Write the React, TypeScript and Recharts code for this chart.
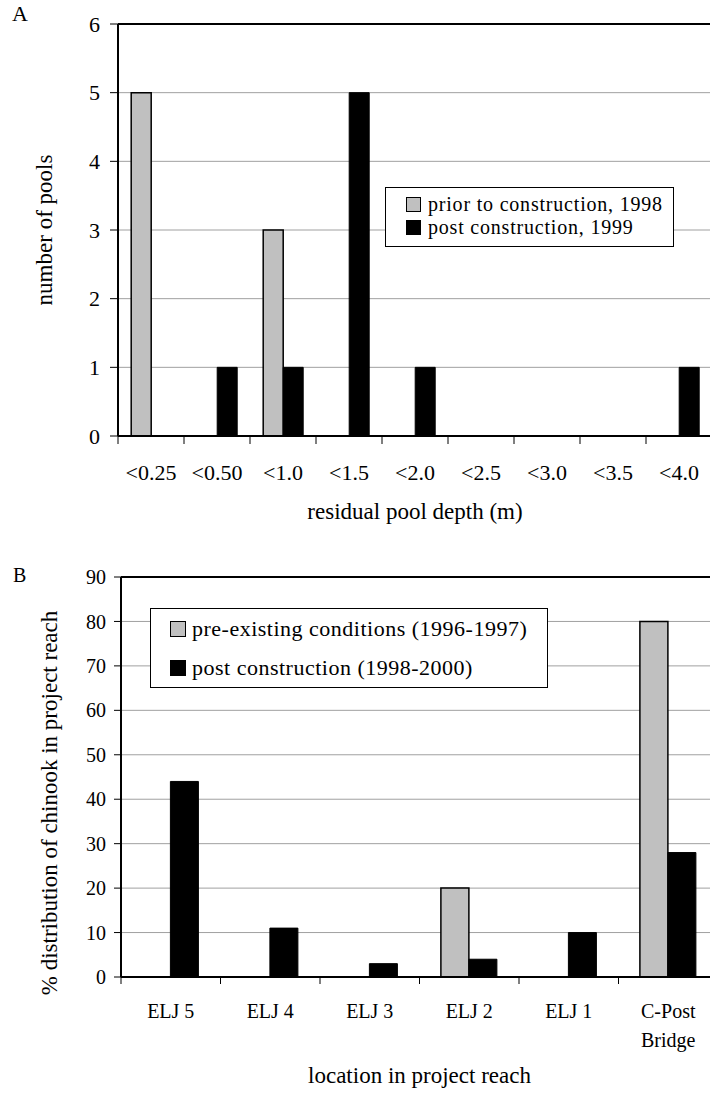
import React from "react";
import {
  Bar,
  BarChart,
  CartesianGrid,
  Label,
  Legend,
  ReferenceLine,
  Text,
  XAxis,
  YAxis,
} from "recharts";

const SERIF = '"Liberation Serif", "Times New Roman", serif';
const GRAY = "#c0c0c0";
const GRID = "#a0a0a0";

// panel A: residual pool depth histogram
const depthClasses = ["<0.25", "<0.50", "<1.0", "<1.5", "<2.0", "<2.5", "<3.0", "<3.5", "<4.0"];
const poolsPrior1998 = [5, 0, 3, 0, 0, 0, 0, 0, 0];
const poolsPost1999 = [0, 1, 1, 5, 1, 0, 0, 0, 1];
const poolTicks = [0, 1, 2, 3, 4, 5, 6];
const poolSeries = ["prior to construction, 1998", "post construction, 1999"];

// panel B: chinook distribution by location
const reachLocations = ["ELJ 5", "ELJ 4", "ELJ 3", "ELJ 2", "ELJ 1", "C-Post Bridge"];
const chinookPre = [0, 0, 0, 20, 0, 80];
const chinookPost = [44, 11, 3, 4, 10, 28];
const chinookTicks = [0, 10, 20, 30, 40, 50, 60, 70, 80, 90];
const chinookSeries = ["pre-existing conditions (1996-1997)", "post construction (1998-2000)"];

const poolData = depthClasses.map((depth, i) => ({
  depth,
  prior: poolsPrior1998[i],
  post: poolsPost1999[i],
}));

const chinookData = reachLocations.map((loc, i) => ({
  loc,
  pre: chinookPre[i],
  post: chinookPost[i],
}));

type TickCfg = {
  fontSize: number;
  tickSize: number;
  tickMargin: number;
  half: number;
  wrap?: number;
  lineHeight?: number;
};

// Excel-style category axis: tick marks sit between categories
function CategoryTick(props: any) {
  const { x, y, payload, index, visibleTicksCount, cfg } = props;
  const c: TickCfg = cfg;
  const half = payload && payload.offset > 5 && payload.offset < 80 ? payload.offset : c.half;
  const axisY = y - c.tickSize - c.tickMargin;
  return (
    <g>
      <line x1={x - half} x2={x - half} y1={axisY} y2={axisY + c.tickSize} stroke="#000" />
      {index === visibleTicksCount - 1 && (
        <line x1={x + half} x2={x + half} y1={axisY} y2={axisY + c.tickSize} stroke="#000" />
      )}
      <Text
        x={x}
        y={y}
        width={c.wrap}
        textAnchor="middle"
        verticalAnchor="start"
        lineHeight={c.lineHeight}
        fontSize={c.fontSize}
        fontFamily={SERIF}
        fill="#000"
        style={{ fontSize: c.fontSize, fontFamily: SERIF }}
      >
        {payload.value}
      </Text>
    </g>
  );
}

const BoxLegend = ({ payload, order, fontSize, spacing, rowHeight, padding, swatch, gap, width }: any) => {
  const items = [...(payload || [])].sort(
    (a: any, b: any) => order.indexOf(a.value) - order.indexOf(b.value)
  );
  return (
    <div
      style={{
        border: "1px solid #000",
        background: "#fff",
        padding,
        width,
        boxSizing: "border-box",
        fontFamily: SERIF,
        fontSize,
        letterSpacing: spacing,
        color: "#000",
      }}
    >
      {items.map((item: any) => (
        <div
          key={item.value}
          style={{ display: "flex", alignItems: "center", height: rowHeight, whiteSpace: "nowrap" }}
        >
          <span
            style={{
              width: swatch,
              height: swatch,
              background: item.color,
              border: "1px solid #000",
              boxSizing: "border-box",
              marginRight: gap,
              flex: "none",
            }}
          />
          <span style={{ lineHeight: `${rowHeight}px` }}>{item.value}</span>
        </div>
      ))}
    </div>
  );
};

const yTitle = (text: string, baseX: number, shiftY: number, fontSize: number) => (p: any) => {
  const vb = p.viewBox || { x: 0, y: 0, width: 0, height: 0 };
  const cx = vb.x + baseX;
  const cy = vb.y + vb.height / 2 + shiftY;
  return (
    <text
      x={cx}
      y={cy}
      transform={`rotate(-90 ${cx} ${cy})`}
      textAnchor="middle"
      fontSize={fontSize}
      fontFamily={SERIF}
      fill="#000"
    >
      {text}
    </text>
  );
};

const xTitle = (text: string, baseline: number, fontSize: number) => (p: any) => {
  const vb = p.viewBox || { x: 0, y: 0, width: 0, height: 0 };
  return (
    <text
      x={vb.x + vb.width / 2}
      y={vb.y + baseline}
      textAnchor="middle"
      fontSize={fontSize}
      fontFamily={SERIF}
      fill="#000"
    >
      {text}
    </text>
  );
};

const axisLine = { stroke: "#000", strokeWidth: 2 };

const PoolChart = () => (
  <BarChart
    width={712}
    height={545}
    data={poolData}
    margin={{ top: 24, right: 0, bottom: 0, left: 0 }}
    barCategoryGap="20%"
    barGap={0}
  >
    <CartesianGrid vertical={false} stroke={GRID} />
    <XAxis
      dataKey="depth"
      height={109}
      interval={0}
      axisLine={axisLine}
      tickLine={false}
      tickSize={8}
      tickMargin={20}
      tick={(p: any) => (
        <CategoryTick {...p} cfg={{ fontSize: 22, tickSize: 8, tickMargin: 20, half: 33 }} />
      )}
    >
      <Label content={xTitle("residual pool depth (m)", 83, 23)} />
    </XAxis>
    <YAxis
      width={118}
      domain={[0, 6]}
      ticks={poolTicks}
      interval={0}
      axisLine={axisLine}
      tickLine={{ stroke: "#000" }}
      tickSize={8}
      tickMargin={10}
      tick={{ fontSize: 22, fill: "#000", fontFamily: SERIF }}
    >
      <Label content={yTitle("number of pools", 52, 0, 23)} />
    </YAxis>
    <ReferenceLine y={6} stroke="#000" strokeWidth={2} />
    <Legend
      layout="vertical"
      align="center"
      verticalAlign="middle"
      wrapperStyle={{ left: 385, top: 187, width: "auto" }}
      content={(p: any) => (
        <BoxLegend
          payload={p.payload}
          order={poolSeries}
          fontSize={20}
          spacing="0.8px"
          rowHeight={23}
          padding="5px 10px 7px 20px"
          swatch={15}
          gap={7}
        />
      )}
    />
    <Bar dataKey="prior" name={poolSeries[0]} fill={GRAY} stroke="#000" strokeWidth={1.5} isAnimationActive={false} />
    <Bar dataKey="post" name={poolSeries[1]} fill="#000" stroke="#000" strokeWidth={1} isAnimationActive={false} />
  </BarChart>
);

const ChinookChart = () => (
  <BarChart
    width={718}
    height={548}
    data={chinookData}
    margin={{ top: 32, right: 0, bottom: 0, left: 0 }}
    barCategoryGap="21.5%"
    barGap={0}
  >
    <CartesianGrid vertical={false} stroke={GRID} />
    <XAxis
      dataKey="loc"
      height={116}
      interval={0}
      axisLine={axisLine}
      tickLine={false}
      tickSize={7}
      tickMargin={20}
      tick={(p: any) => (
        <CategoryTick
          {...p}
          cfg={{ fontSize: 20, tickSize: 7, tickMargin: 20, half: 49.75, wrap: 90, lineHeight: 29 }}
        />
      )}
    >
      <Label content={xTitle("location in project reach", 106, 23)} />
    </XAxis>
    <YAxis
      width={121}
      domain={[0, 90]}
      ticks={chinookTicks}
      interval={0}
      axisLine={axisLine}
      tickLine={{ stroke: "#000" }}
      tickSize={7}
      tickMargin={8}
      tick={{ fontSize: 20, fill: "#000", fontFamily: SERIF }}
    >
      <Label content={yTitle("% distribution of chinook in project reach", 57, 26, 23)} />
    </YAxis>
    <ReferenceLine y={90} stroke="#000" strokeWidth={2} />
    <Legend
      layout="vertical"
      align="center"
      verticalAlign="middle"
      wrapperStyle={{ left: 150, top: 63, width: 398 }}
      content={(p: any) => (
        <BoxLegend
          payload={p.payload}
          order={chinookSeries}
          fontSize={22}
          spacing="0.5px"
          rowHeight={39}
          padding="0 0 0 19px"
          swatch={16}
          gap={6}
          width={398}
        />
      )}
    />
    <Bar dataKey="pre" name={chinookSeries[0]} fill={GRAY} stroke="#000" strokeWidth={1.5} isAnimationActive={false} />
    <Bar dataKey="post" name={chinookSeries[1]} fill="#000" stroke="#000" strokeWidth={1} isAnimationActive={false} />
  </BarChart>
);

export default function App() {
  return (
    <div
      style={{
        position: "absolute",
        left: 0,
        top: 0,
        width: 710,
        height: 1093,
        overflow: "hidden",
        background: "#fff",
        fontFamily: SERIF,
      }}
    >
      <div style={{ position: "absolute", left: 0, top: 0 }}>
        <PoolChart />
      </div>
      <div style={{ position: "absolute", left: 0, top: 545 }}>
        <ChinookChart />
      </div>
      <div style={{ position: "absolute", left: 12, top: 3, fontSize: 22, lineHeight: "22px" }}>A</div>
      <div style={{ position: "absolute", left: 13, top: 565, fontSize: 20, lineHeight: "20px" }}>B</div>
    </div>
  );
}
